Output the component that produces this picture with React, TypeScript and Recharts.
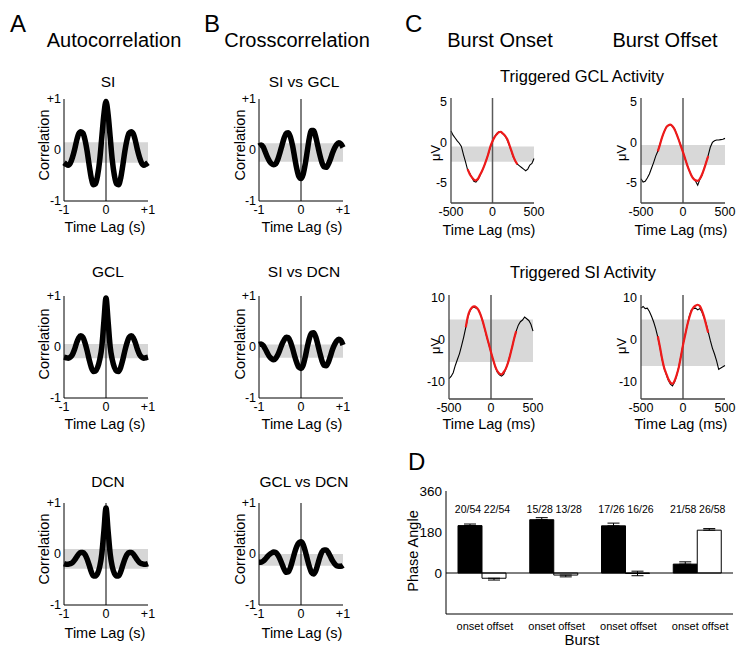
import React from 'react';
import {
  LineChart,
  Line,
  XAxis,
  YAxis,
  ReferenceArea,
  ReferenceLine,
  BarChart,
  Bar,
  ErrorBar,
  LabelList,
} from 'recharts';

const FONT = '"Liberation Sans", Arial, Helvetica, sans-serif';

// ---------- Panels A & B: correlation vs time lag (s) ----------
const LAG_S = [
  -1, -0.95, -0.9, -0.85, -0.8, -0.75, -0.7, -0.65, -0.6, -0.55, -0.5, -0.45, -0.4, -0.35, -0.3, -0.25, -0.2,
  -0.15, -0.1, -0.05, 0, 0.05, 0.1, 0.15, 0.2, 0.25, 0.3, 0.35, 0.4, 0.45, 0.5, 0.55, 0.6, 0.65, 0.7, 0.75, 0.8,
  0.85, 0.9, 0.95, 1,
];
const CORR_TICKS = [-1, 0, 1];

const AUTO_SI = [
  -0.25, -0.28, -0.3, -0.26, -0.15, 0.0, 0.18, 0.32, 0.36, 0.33, 0.2, -0.02, -0.3, -0.55, -0.68, -0.66, -0.5, -0.2,
  0.25, 0.7, 0.95, 0.7, 0.25, -0.2, -0.5, -0.66, -0.68, -0.55, -0.3, -0.02, 0.2, 0.33, 0.36, 0.32, 0.18, 0.0, -0.15,
  -0.26, -0.3, -0.28, -0.25,
];
const AUTO_GCL = [
  -0.2, -0.21, -0.22, -0.2, -0.15, -0.05, 0.08, 0.18, 0.22, 0.19, 0.08, -0.07, -0.25, -0.4, -0.48, -0.47, -0.4, -0.25,
  0.0, 0.5, 0.96, 0.5, 0.0, -0.25, -0.4, -0.47, -0.48, -0.4, -0.25, -0.07, 0.08, 0.19, 0.22, 0.18, 0.08, -0.05, -0.15,
  -0.2, -0.22, -0.21, -0.2,
];
const AUTO_DCN = [
  -0.19, -0.2, -0.2, -0.19, -0.17, -0.12, -0.06, 0.0, 0.03, 0.03, -0.01, -0.1, -0.22, -0.35, -0.43, -0.43, -0.38,
  -0.25, 0.0, 0.45, 0.9, 0.45, 0.0, -0.25, -0.38, -0.43, -0.43, -0.35, -0.22, -0.1, -0.01, 0.03, 0.03, 0.0, -0.06,
  -0.12, -0.17, -0.19, -0.2, -0.2, -0.19,
];
const XC_SI_GCL = [
  0.08, 0.1, 0.06, -0.04, -0.14, -0.22, -0.27, -0.29, -0.27, -0.18, -0.05, 0.1, 0.24, 0.33, 0.34, 0.25, 0.08, -0.15,
  -0.37, -0.52, -0.56, -0.48, -0.28, -0.02, 0.24, 0.38, 0.38, 0.26, 0.08, -0.1, -0.25, -0.33, -0.34, -0.28, -0.18,
  -0.06, 0.04, 0.11, 0.14, 0.12, 0.05,
];
const XC_SI_DCN = [
  0.05, 0.06, 0.03, -0.04, -0.12, -0.19, -0.23, -0.25, -0.22, -0.15, -0.05, 0.06, 0.14, 0.19, 0.18, 0.1, -0.03, -0.18,
  -0.31, -0.4, -0.42, -0.36, -0.2, 0.0, 0.17, 0.27, 0.28, 0.2, 0.05, -0.12, -0.27, -0.36, -0.37, -0.3, -0.18, -0.05,
  0.05, 0.12, 0.15, 0.13, 0.04,
];
const XC_GCL_DCN = [
  -0.16, -0.16, -0.14, -0.1, -0.05, -0.01, 0.02, 0.04, 0.03, -0.02, -0.1, -0.2, -0.3, -0.36, -0.35, -0.26, -0.12,
  0.03, 0.15, 0.22, 0.24, 0.19, 0.06, -0.1, -0.25, -0.36, -0.39, -0.33, -0.2, -0.06, 0.04, 0.08, 0.08, 0.03, -0.05,
  -0.13, -0.19, -0.23, -0.24, -0.24, -0.22,
];

// shuffled-data confidence bands [low, high]
const BAND_AUTO_SI = [-0.25, 0.15];
const BAND_AUTO_GCL = [-0.22, 0.06];
const BAND_AUTO_DCN = [-0.29, 0.1];
const BAND_XC_SI_GCL = [-0.23, 0.13];
const BAND_XC_SI_DCN = [-0.21, 0.05];
const BAND_XC_GCL_DCN = [-0.23, 0.0];

// ---------- Panel C: triggered activity (µV) vs time lag (ms) ----------
const LAG_MS = [
  -500, -475, -450, -425, -400, -375, -350, -325, -300, -275, -250, -225, -200, -175, -150, -125, -100, -75, -50, -25,
  0, 25, 50, 75, 100, 125, 150, 175, 200, 225, 250, 275, 300, 325, 350, 375, 400, 425, 450, 475, 500,
];
const FIT_MS = [
  -300, -275, -250, -225, -200, -175, -150, -125, -100, -75, -50, -25, 0, 25, 50, 75, 100, 125, 150, 175, 200, 225,
  250, 275, 300,
];
const MS_TICKS = [-500, 0, 500];

const GCL_ONSET = [
  1.4, 0.9, 0.55, 0.2, -0.1, -0.5, -1.5, -2.4, -3.4, -3.8, -4.3, -4.8, -4.9, -4.6, -4.1, -3.5, -2.9, -2.2, -1.4, -0.6,
  0.1, 0.7, 1.1, 1.3, 1.25, 1.1, 0.8, 0.35, -0.3, -1.0, -1.8, -2.3, -2.7, -2.9, -3.1, -3.3, -3.5, -3.3, -2.8, -2.6,
  -2.0,
];
const GCL_ONSET_FIT = [
  -3.3, -3.9, -4.3, -4.6, -4.7, -4.5, -4.0, -3.5, -2.9, -2.2, -1.4, -0.5, 0.15, 0.65, 1.0, 1.25, 1.3, 1.1, 0.85, 0.45,
  -0.2, -0.95, -1.7, -2.3, -2.7,
];
const GCL_OFFSET = [
  -4.5, -4.9, -4.8, -4.4, -3.9, -3.2, -2.5, -1.7, -1.1, -0.2, 0.6, 1.3, 1.9, 2.1, 2.2, 2.0, 1.7, 1.0, 0.3, -0.4, -1.2,
  -2.0, -2.8, -3.5, -4.1, -4.5, -4.8, -5.3, -4.6, -4.1, -3.3, -2.5, -1.6, -0.6, 0.0, 0.2, 0.3, 0.3, 0.35, 0.4, 0.5,
];
const GCL_OFFSET_FIT = [
  -1.1, -0.3, 0.6, 1.3, 1.85, 2.1, 2.2, 2.0, 1.6, 1.0, 0.3, -0.45, -1.2, -2.0, -2.8, -3.5, -4.1, -4.5, -4.7, -4.75,
  -4.5, -4.0, -3.3, -2.5, -1.7,
];
const SI_ONSET = [
  -9.2, -8.7, -7.8, -6.1, -4.7, -3.3, -1.4, 0.6, 2.9, 5.3, 6.8, 7.5, 7.6, 7.4, 7.0, 5.9, 4.4, 2.5, 0.6, -1.2, -3.0,
  -4.8, -6.4, -7.7, -8.3, -8.6, -8.2, -7.0, -5.6, -3.8, -1.9, 0.2, 2.0, 3.4, 4.2, 4.6, 5.3, 4.9, 4.5, 3.6, 2.0,
];
const SI_ONSET_FIT = [
  2.9, 5.5, 6.9, 7.6, 7.8, 7.6, 7.0, 5.9, 4.4, 2.6, 0.7, -1.1, -3.0, -4.7, -6.3, -7.4, -8.0, -8.2, -7.7, -6.9, -5.6,
  -3.9, -1.9, 0.2, 2.0,
];
const SI_OFFSET = [
  7.4, 7.8, 7.3, 7.4, 6.6, 5.5, 4.2, 2.6, 0.6, -1.8, -4.6, -6.8, -8.2, -9.6, -10.5, -10.9, -10.0, -8.4, -6.4, -3.9,
  -1.2, 1.1, 3.3, 5.5, 7.0, 7.3, 7.4, 7.0, 7.3, 6.5, 5.2, 3.8, 1.8, -0.2, -2.0, -3.4, -5.0, -7.0, -6.7, -6.4, -6.1,
];
const SI_OFFSET_FIT = [
  0.8, -1.7, -4.4, -6.6, -8.0, -9.3, -10.1, -10.4, -9.7, -8.3, -6.5, -4.0, -1.3, 1.0, 3.3, 5.2, 6.7, 7.6, 8.0, 8.2, 7.9,
  6.9, 5.4, 3.5, 1.6,
];
const BAND_GCL_ONSET = [-2.4, -0.5];
const BAND_GCL_OFFSET = [-2.8, -0.33];
const BAND_SI_ONSET = [-5.3, 4.7];
const BAND_SI_OFFSET = [-6.25, 4.7];
const GCL_DOMAIN = [-7.5, 5.5];
const GCL_TICKS = [-5, 0, 5];
const SI_DOMAIN = [-14, 10.5];
const SI_TICKS = [-10, 0, 10];

// ---------- Panel D: phase angle ----------
const AREAS = ['SMA', 'MI', 'SI', 'GCL'];
const ONSET_PHASE = [208, 234, 207, 39];
const OFFSET_PHASE = [-23, -9, -2, 188];
const ONSET_SEM = [7, 9, 12, 10];
const OFFSET_SEM = [8, 8, 10, 7];
const ONSET_COUNT = ['20/54', '15/28', '17/26', '21/58'];
const OFFSET_COUNT = ['22/54', '13/28', '16/26', '26/58'];
const PHASE_DOMAIN = [-180, 360];
const PHASE_TICKS = [0, 180, 360];

const fmtPM = (v: number) => (v > 0 ? `+${v}` : `${v}`);
const tickStyle = { fill: '#000', fontSize: 12.5, fontFamily: FONT };

type CorrProps = { x: number; y: number; w: number; h: number; values: number[]; band: number[] };

function CorrPlot({ x, y, w, h, values, band }: CorrProps) {
  const padL = 40;
  const padT = 8;
  const padR = 8;
  const padB = 22;
  const data = LAG_S.map((t, i) => ({ t, r: values[i] }));
  return (
    <div style={{ position: 'absolute', left: x - padL, top: y - padT }}>
      <LineChart
        width={w + padL + padR}
        height={h + padT + padB}
        data={data}
        margin={{ top: padT, right: padR, bottom: 0, left: 0 }}
      >
        <ReferenceArea x1={-1} x2={1} y1={band[0]} y2={band[1]} fill="#d6d6d6" fillOpacity={1} stroke="none" />
        <ReferenceLine x={0} stroke="#000" strokeWidth={1} />
        <XAxis
          type="number"
          dataKey="t"
          domain={[-1, 1]}
          ticks={CORR_TICKS}
          tickFormatter={fmtPM}
          height={padB}
          tickLine={false}
          tickSize={2}
          tickMargin={2}
          axisLine={{ stroke: '#000', strokeWidth: 1 }}
          tick={tickStyle}
          interval={0}
        />
        <YAxis
          type="number"
          domain={[-1, 1]}
          ticks={CORR_TICKS}
          tickFormatter={fmtPM}
          width={padL}
          tickLine={false}
          tickSize={2}
          tickMargin={1}
          axisLine={{ stroke: '#000', strokeWidth: 1 }}
          tick={tickStyle}
          interval={0}
        />
        <Line
          dataKey="r"
          type="monotone"
          stroke="#000"
          strokeWidth={5.5}
          dot={false}
          activeDot={false}
          isAnimationActive={false}
        />
      </LineChart>
    </div>
  );
}

type TrigProps = {
  x: number;
  y: number;
  w: number;
  h: number;
  trace: number[];
  fit: number[];
  band: number[];
  domain: number[];
  ticks: number[];
};

function TrigPlot({ x, y, w, h, trace, fit, band, domain, ticks }: TrigProps) {
  const padL = 40;
  const padT = 8;
  const padR = 12;
  const padB = 22;
  const traceData = LAG_MS.map((t, i) => ({ t, v: trace[i] }));
  const fitData = FIT_MS.map((t, i) => ({ t, v: fit[i] }));
  return (
    <div style={{ position: 'absolute', left: x - padL, top: y - padT }}>
      <LineChart
        width={w + padL + padR}
        height={h + padT + padB}
        data={traceData}
        margin={{ top: padT, right: padR, bottom: 0, left: 0 }}
      >
        <ReferenceArea x1={-500} x2={500} y1={band[0]} y2={band[1]} fill="#d8d8d8" fillOpacity={1} stroke="none" />
        <ReferenceLine x={0} stroke="#5a5a5a" strokeWidth={1.5} />
        <XAxis
          type="number"
          dataKey="t"
          domain={[-500, 500]}
          ticks={MS_TICKS}
          height={padB}
          tickLine={false}
          tickSize={2}
          tickMargin={2}
          axisLine={{ stroke: '#444', strokeWidth: 1.3 }}
          tick={tickStyle}
          interval={0}
        />
        <YAxis
          type="number"
          domain={domain}
          ticks={ticks}
          width={padL}
          allowDataOverflow
          tickLine={false}
          tickSize={2}
          tickMargin={2}
          axisLine={{ stroke: '#444', strokeWidth: 1.3 }}
          tick={tickStyle}
          interval={0}
        />
        <Line
          data={traceData}
          dataKey="v"
          type="linear"
          stroke="#000"
          strokeWidth={1.1}
          dot={false}
          activeDot={false}
          isAnimationActive={false}
        />
        <Line
          data={fitData}
          dataKey="v"
          type="monotone"
          stroke="#ee1a1a"
          strokeWidth={2.2}
          dot={false}
          activeDot={false}
          isAnimationActive={false}
        />
      </LineChart>
    </div>
  );
}

const oneSided = (v: number, e: number) => (v > 5 ? [0, e] : v < -5 ? [e, 0] : [e, e]);

function PhasePlot() {
  const x = 446;
  const y = 491;
  const w = 287;
  const h = 123;
  const padL = 40;
  const padT = 30;
  const padR = 6;
  const padB = 24;
  const top = y - padT;
  const countY = 513 - top;
  const data = AREAS.map((a, i) => ({
    area: a,
    onset: ONSET_PHASE[i],
    offset: OFFSET_PHASE[i],
    onsetErr: oneSided(ONSET_PHASE[i], ONSET_SEM[i]),
    offsetErr: oneSided(OFFSET_PHASE[i], OFFSET_SEM[i]),
    onsetN: ONSET_COUNT[i],
    offsetN: OFFSET_COUNT[i],
  }));
  const makeCount = (shift: number) => (p: any) => {
    const bx = p.x ?? p.viewBox?.x ?? 0;
    const bw = p.width ?? p.viewBox?.width ?? 0;
    return (
      <text x={bx + bw / 2 + shift} y={countY} textAnchor="middle" fontSize={10.5} fontFamily={FONT} fill="#000">
        {p.value}
      </text>
    );
  };
  const bottomTick = (p: any) => (
    <text x={p.x + 3} y={p.y + 8} textAnchor="middle" fontSize={11} fontFamily={FONT} fill="#000">
      onset offset
    </text>
  );
  const topTick = (p: any) => (
    <text x={p.x} y={p.y} textAnchor="middle" fontSize={16} fontFamily={FONT} fill="#000">
      {p.payload.value}
    </text>
  );
  return (
    <div style={{ position: 'absolute', left: x - padL, top }}>
      <BarChart
        width={w + padL + padR}
        height={h + padT + padB}
        data={data}
        margin={{ top: padT, right: padR, bottom: 0, left: 0 }}
        barCategoryGap={12}
        barGap={0}
      >
        <XAxis
          xAxisId="b"
          dataKey="area"
          height={padB}
          tickLine={false}
          tickSize={4}
          tickMargin={4}
          axisLine={{ stroke: '#000', strokeWidth: 1 }}
          tick={bottomTick}
          interval={0}
        />
        <XAxis
          xAxisId="t"
          dataKey="area"
          orientation="top"
          height={0}
          tickLine={false}
          tickSize={4}
          tickMargin={5}
          axisLine={{ stroke: '#000', strokeWidth: 1 }}
          tick={topTick}
          interval={0}
        />
        <YAxis
          yAxisId="l"
          type="number"
          domain={PHASE_DOMAIN}
          ticks={PHASE_TICKS}
          width={padL}
          tickLine={false}
          tickSize={2}
          tickMargin={2}
          axisLine={{ stroke: '#000', strokeWidth: 1 }}
          tick={{ fill: '#000', fontSize: 13.5, fontFamily: FONT }}
          interval={0}
        />
        <YAxis
          yAxisId="r"
          orientation="right"
          type="number"
          domain={PHASE_DOMAIN}
          width={0}
          tick={false}
          tickLine={false}
          axisLine={{ stroke: '#000', strokeWidth: 1 }}
        />
        <ReferenceLine y={0} yAxisId="l" xAxisId="b" stroke="#000" strokeWidth={1} />
        <Bar xAxisId="b" yAxisId="l" dataKey="onset" fill="#000" stroke="#000" strokeWidth={1} isAnimationActive={false}>
          <ErrorBar dataKey="onsetErr" width={6} stroke="#000" strokeWidth={1} direction="y" />
          <LabelList dataKey="onsetN" content={makeCount(-2)} />
        </Bar>
        <Bar xAxisId="b" yAxisId="l" dataKey="offset" fill="#fff" stroke="#000" strokeWidth={1} isAnimationActive={false}>
          <ErrorBar dataKey="offsetErr" width={6} stroke="#000" strokeWidth={1} direction="y" />
          <LabelList dataKey="offsetN" content={makeCount(3)} />
        </Bar>
      </BarChart>
    </div>
  );
}

type Txt = { x: number; y: number; s: number; t: string; a?: 'start' | 'middle' | 'end'; r?: boolean };

const TEXTS: Txt[] = [
  { x: 10, y: 32, s: 24, t: 'A', a: 'start' },
  { x: 204, y: 32, s: 24, t: 'B', a: 'start' },
  { x: 405, y: 32, s: 24, t: 'C', a: 'start' },
  { x: 408, y: 470, s: 24, t: 'D', a: 'start' },
  { x: 114, y: 47, s: 20, t: 'Autocorrelation' },
  { x: 297, y: 47, s: 20, t: 'Crosscorrelation' },
  { x: 500, y: 47, s: 20, t: 'Burst Onset' },
  { x: 665, y: 47, s: 20, t: 'Burst Offset' },
  { x: 582, y: 82, s: 16.5, t: 'Triggered GCL Activity' },
  { x: 583, y: 278, s: 16.5, t: 'Triggered SI Activity' },
  { x: 108, y: 87, s: 15.5, t: 'SI' },
  { x: 304, y: 87, s: 15.5, t: 'SI vs GCL' },
  { x: 108, y: 277, s: 15.5, t: 'GCL' },
  { x: 304, y: 277, s: 15.5, t: 'SI vs DCN' },
  { x: 108, y: 487, s: 15.5, t: 'DCN' },
  { x: 304, y: 487, s: 15.5, t: 'GCL vs DCN' },
  { x: 49, y: 145, s: 14.5, t: 'Correlation', r: true },
  { x: 245, y: 145, s: 14.5, t: 'Correlation', r: true },
  { x: 49, y: 344, s: 14.5, t: 'Correlation', r: true },
  { x: 245, y: 344, s: 14.5, t: 'Correlation', r: true },
  { x: 49, y: 549, s: 14.5, t: 'Correlation', r: true },
  { x: 245, y: 549, s: 14.5, t: 'Correlation', r: true },
  { x: 105, y: 232, s: 14.5, t: 'Time Lag (s)' },
  { x: 302, y: 232, s: 14.5, t: 'Time Lag (s)' },
  { x: 105, y: 429, s: 14.5, t: 'Time Lag (s)' },
  { x: 302, y: 429, s: 14.5, t: 'Time Lag (s)' },
  { x: 105, y: 638, s: 14.5, t: 'Time Lag (s)' },
  { x: 302, y: 638, s: 14.5, t: 'Time Lag (s)' },
  { x: 489, y: 235, s: 14.5, t: 'Time Lag (ms)' },
  { x: 681, y: 235, s: 14.5, t: 'Time Lag (ms)' },
  { x: 489, y: 429, s: 14.5, t: 'Time Lag (ms)' },
  { x: 681, y: 429, s: 14.5, t: 'Time Lag (ms)' },
  { x: 440, y: 153, s: 13, t: 'μV', r: true },
  { x: 626, y: 153, s: 13, t: 'μV', r: true },
  { x: 440, y: 346, s: 13, t: 'μV', r: true },
  { x: 626, y: 346, s: 13, t: 'μV', r: true },
  { x: 582, y: 645, s: 15, t: 'Burst' },
  { x: 418, y: 551, s: 14.5, t: 'Phase Angle', r: true },
];

function Overlay() {
  return (
    <svg
      width={745}
      height={656}
      style={{ position: 'absolute', left: 0, top: 0, pointerEvents: 'none' }}
      fontFamily={FONT}
    >
      {TEXTS.map((d, i) =>
        d.r ? (
          <text
            key={i}
            transform={`translate(${d.x},${d.y}) rotate(-90)`}
            textAnchor="middle"
            fontSize={d.s}
            fill="#000"
          >
            {d.t}
          </text>
        ) : (
          <text key={i} x={d.x} y={d.y} textAnchor={d.a ?? 'middle'} fontSize={d.s} fill="#000">
            {d.t}
          </text>
        )
      )}
    </svg>
  );
}

export default function App() {
  const ax = 64;
  const bx = 259;
  const w = 84;
  const h = 102;
  return (
    <div
      style={{
        position: 'absolute',
        left: 0,
        top: 0,
        width: 745,
        height: 656,
        background: '#fff',
        fontFamily: FONT,
        overflow: 'hidden',
      }}
    >
      <CorrPlot x={ax} y={99} w={w} h={h} values={AUTO_SI} band={BAND_AUTO_SI} />
      <CorrPlot x={ax} y={296} w={w} h={h} values={AUTO_GCL} band={BAND_AUTO_GCL} />
      <CorrPlot x={ax} y={503} w={w} h={h} values={AUTO_DCN} band={BAND_AUTO_DCN} />
      <CorrPlot x={bx} y={99} w={w} h={h} values={XC_SI_GCL} band={BAND_XC_SI_GCL} />
      <CorrPlot x={bx} y={296} w={w} h={h} values={XC_SI_DCN} band={BAND_XC_SI_DCN} />
      <CorrPlot x={bx} y={503} w={w} h={h} values={XC_GCL_DCN} band={BAND_XC_GCL_DCN} />
      <TrigPlot
        x={451}
        y={98}
        w={83}
        h={105}
        trace={GCL_ONSET}
        fit={GCL_ONSET_FIT}
        band={BAND_GCL_ONSET}
        domain={GCL_DOMAIN}
        ticks={GCL_TICKS}
      />
      <TrigPlot
        x={641}
        y={98}
        w={84}
        h={105}
        trace={GCL_OFFSET}
        fit={GCL_OFFSET_FIT}
        band={BAND_GCL_OFFSET}
        domain={GCL_DOMAIN}
        ticks={GCL_TICKS}
      />
      <TrigPlot
        x={449}
        y={295}
        w={84}
        h={104}
        trace={SI_ONSET}
        fit={SI_ONSET_FIT}
        band={BAND_SI_ONSET}
        domain={SI_DOMAIN}
        ticks={SI_TICKS}
      />
      <TrigPlot
        x={641}
        y={295}
        w={84}
        h={104}
        trace={SI_OFFSET}
        fit={SI_OFFSET_FIT}
        band={BAND_SI_OFFSET}
        domain={SI_DOMAIN}
        ticks={SI_TICKS}
      />
      <PhasePlot />
      <Overlay />
    </div>
  );
}
